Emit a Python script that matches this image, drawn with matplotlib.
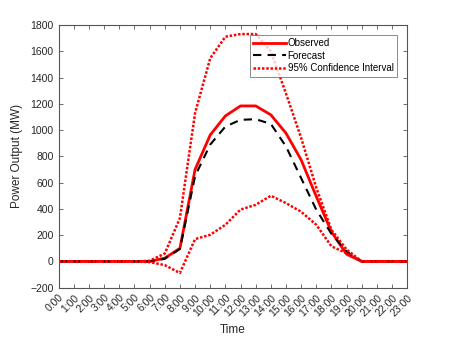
import matplotlib
matplotlib.use("Agg")
import matplotlib.pyplot as plt

plt.rcParams['font.family'] = ['Liberation Sans', 'DejaVu Sans']

hours = list(range(24))
tick_labels = [f"{h}:00" for h in hours]

observed = [0, 0, 0, 0, 0, 0, 0, 25, 100, 700, 963, 1108, 1184, 1184, 1116, 976,
            773, 494, 225, 55, 0, 0, 0, 0]
forecast = [0, 0, 0, 0, 0, 0, 0, 20, 95, 650, 890, 1027, 1078, 1083, 1047, 875,
            634, 393, 210, 75, 0, 0, 0, 0]
upper_ci = [0, 0, 0, 0, 0, 0, 5, 60, 330, 1130, 1547, 1711, 1731, 1731, 1600, 1278,
            940, 560, 240, 90, 0, 0, 0, 0]
lower_ci = [0, 0, 0, 0, 0, 0, -5, -28, -88, 170, 203, 279, 395, 431, 500, 444,
            378, 279, 115, 62, 0, 0, 0, 0]

fig = plt.figure(figsize=(4.5, 3.38), dpi=100)
ax = fig.add_axes([0.1304, 0.1488, 0.7746, 0.7772])

ax.plot(hours, observed, color='#ff0000', lw=2.0, ls='-', label='Observed')
ax.plot(hours, forecast, color='black', lw=1.5, ls=(0, (4, 3)), label='Forecast')
ax.plot(hours, upper_ci, color='#ff0000', lw=1.8, ls=(0, (1, 0.7)), label='95% Confidence Interval')
ax.plot(hours, lower_ci, color='#ff0000', lw=1.8, ls=(0, (1, 0.7)))

ax.set_xlim(0, 23)
ax.set_ylim(-200, 1800)
ax.set_yticks(range(-200, 1801, 200))
ax.set_xticks(hours)
ax.set_xticklabels(tick_labels, rotation=45, ha='right', rotation_mode='anchor')

for s in ax.spines.values():
    s.set_color('#555555')
    s.set_linewidth(0.8)
ax.tick_params(direction='in', top=True, right=True, length=3, width=0.6,
               labelsize=7.5, colors='#555555', labelcolor='#262626')

ax.set_xlabel('Time', fontsize=8.5, color='#262626', labelpad=4)
ax.set_ylabel('Power Output (MW)', fontsize=8.5, color='#262626', labelpad=5)

leg = ax.legend(loc='upper right', bbox_to_anchor=(0.970, 0.962), fontsize=7.0,
                frameon=True, fancybox=False, edgecolor='#555555',
                borderpad=0.35, labelspacing=0.25, handlelength=3.3, handletextpad=0.2,
                borderaxespad=0.0)
leg.get_frame().set_linewidth(0.6)

fig.savefig('out.png', dpi=100)
